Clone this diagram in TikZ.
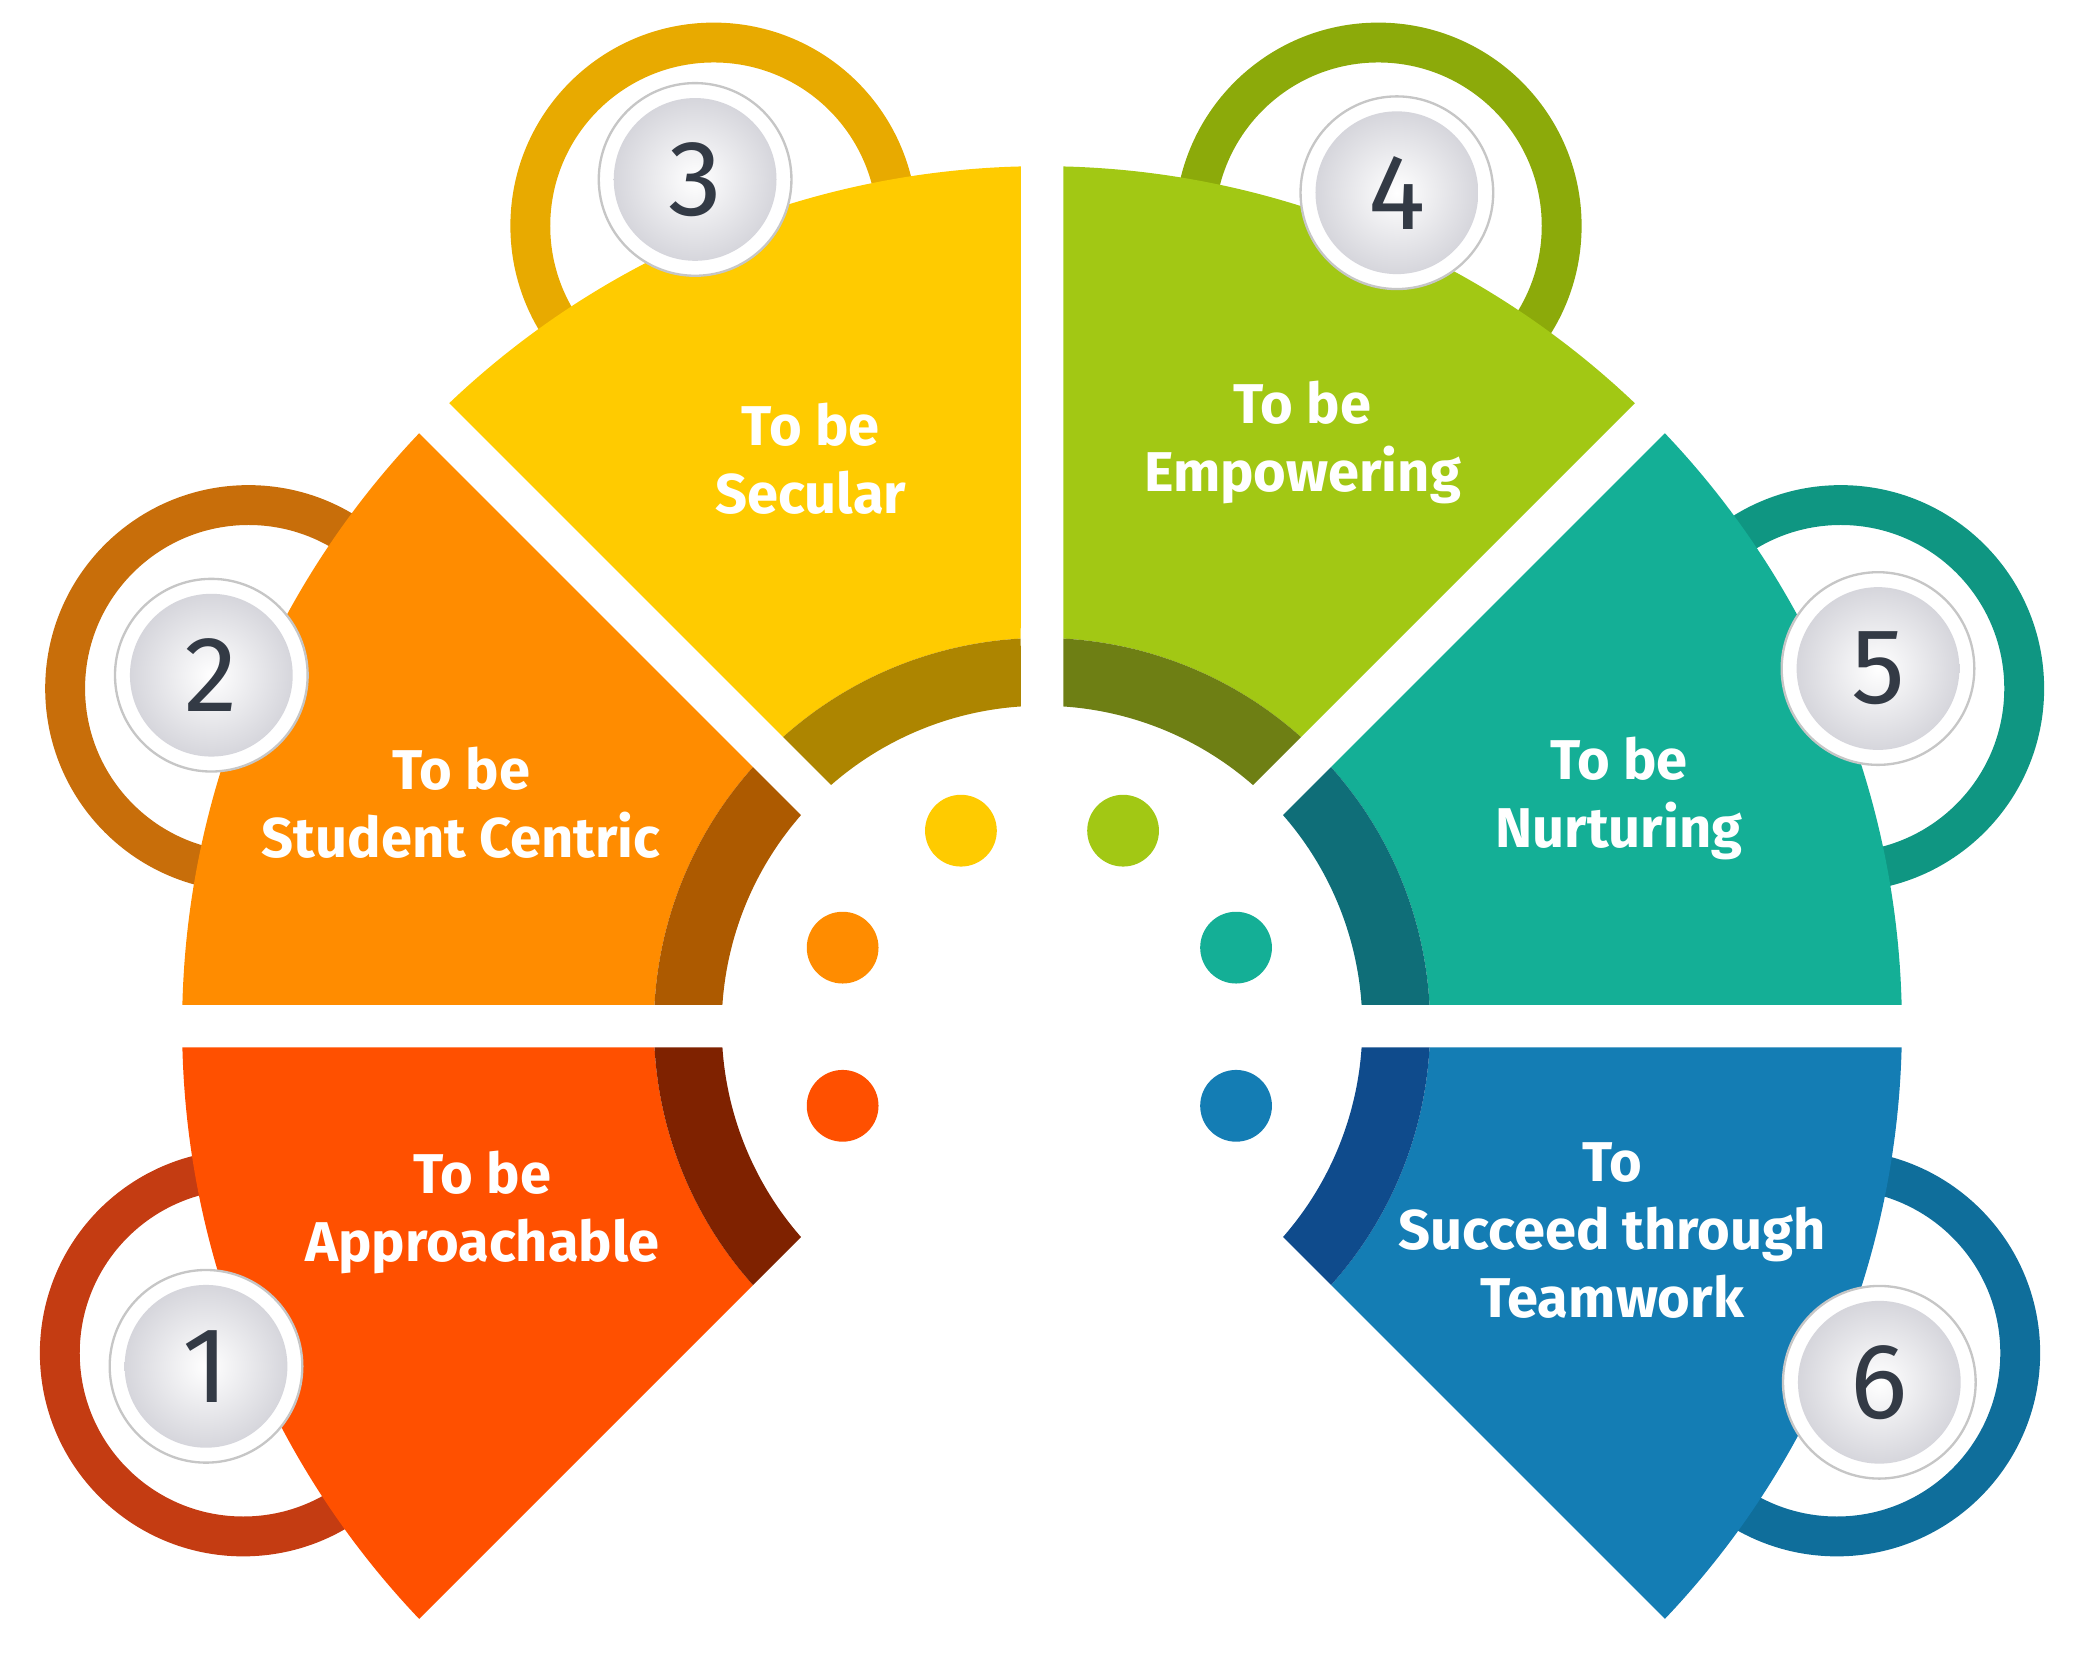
\documentclass[tikz,border=0pt]{standalone}
\usepackage{fontspec}
\setmainfont{Fira Sans}
\definecolor{cR}{HTML}{FF5000}\definecolor{bR}{HTML}{7F2200}\definecolor{rR}{HTML}{C43C12}
\definecolor{cO}{HTML}{FF8C00}\definecolor{bO}{HTML}{AD5A00}\definecolor{rO}{HTML}{C86E0A}
\definecolor{cY}{HTML}{FFCB00}\definecolor{bY}{HTML}{AD8500}\definecolor{rY}{HTML}{E8AA00}
\definecolor{cG}{HTML}{A2C814}\definecolor{bG}{HTML}{6E7F14}\definecolor{rG}{HTML}{8CAA0A}
\definecolor{cT}{HTML}{14AF96}\definecolor{bT}{HTML}{0F6E78}\definecolor{rT}{HTML}{0F9682}
\definecolor{cB}{HTML}{147DB4}\definecolor{bB}{HTML}{0F4B8C}\definecolor{rB}{HTML}{0F6E9B}
\definecolor{numc}{HTML}{333A45}
\newcommand\myseg[5]{\fill[#1] ({#2+asin(16/#4)}:#4) -- ({#2+asin(16/#5)}:#5) arc[start angle={#2+asin(16/#5)}, end angle={#3-asin(16/#5)}, radius=#5] -- ({#3-asin(16/#4)}:#4) arc[start angle={#3-asin(16/#4)}, end angle={#2+asin(16/#4)}, radius=#4] -- cycle;}
\tikzset{
 ringc/.style={line width=0.6cm},
 badge/.style={circle, draw=gray!45, line width=1pt, fill=white, minimum size=2.9cm, inner sep=0pt},
 badgein/.style={circle, inner color=white, outer color=blue!8!gray!30, minimum size=2.45cm, inner sep=0pt, text=numc, font=\fontsize{46}{50}\selectfont},
 lbl/.style={text=white, align=center, font=\fontsize{24}{29}\selectfont\bfseries},
 dot/.style={circle, minimum size=1.08cm, inner sep=0pt}
}
\begin{document}
\begin{tikzpicture}[x=0.02cm,y=-0.02cm]
\useasboundingbox (0,0) rectangle (1568,1244);
% rings
\draw[ringc, rR] (183,1018) circle[radius=138];
\draw[ringc, rO] (187,518) circle[radius=138];
\draw[ringc, rY] (537,170) circle[radius=138];
\draw[ringc, rG] (1037,170) circle[radius=138];
\draw[ringc, rT] (1385,518) circle[radius=138];
\draw[ringc, rB] (1382,1018) circle[radius=138];
% segments
\begin{scope}[shift={(784,772)}]
\myseg{cR}{135}{180}{292}{647}\myseg{bR}{135}{180}{241}{292}
\myseg{cO}{180}{225}{292}{647}\myseg{bO}{180}{225}{241}{292}
\myseg{cY}{225}{270}{292}{647}\myseg{bY}{225}{270}{241}{292}
\myseg{cG}{270}{315}{292}{647}\myseg{bG}{270}{315}{241}{292}
\myseg{cT}{315}{360}{292}{647}\myseg{bT}{315}{360}{241}{292}
\myseg{cB}{0}{45}{292}{647}\myseg{bB}{0}{45}{241}{292}
\end{scope}
% badges
\foreach \n/\x/\y in {1/155/1028,2/159/508,3/523/135,4/1051/145,5/1413/503,6/1414/1040}{
 \node[badge] (bo\n) at (\x,\y) {};
 \node[badgein] (bi\n) at (\x,\y) {\n};
}
% dots
\node[dot, fill=cY] (dY) at (723,625) {};
\node[dot, fill=cG] (dG) at (845,625) {};
\node[dot, fill=cO] (dO) at (634,713) {};
\node[dot, fill=cT] (dT) at (930,713) {};
\node[dot, fill=cR] (dR) at (634,832) {};
\node[dot, fill=cB] (dB) at (930,832) {};
% labels
\node[lbl] (l3) at (610,345) {To be\\Secular};
\node[lbl] (l4) at (980,333) {To be\\Empowering};
\node[lbl] (l2) at (347,604) {To be\\Student Centric};
\node[lbl] (l5) at (1218,601) {To be\\Nurturing};
\node[lbl] (l1) at (363,912) {To be\\Approachable};
\node[lbl] (l6) at (1213,926) {To\\Succeed through\\Teamwork};
\end{tikzpicture}
\end{document}
